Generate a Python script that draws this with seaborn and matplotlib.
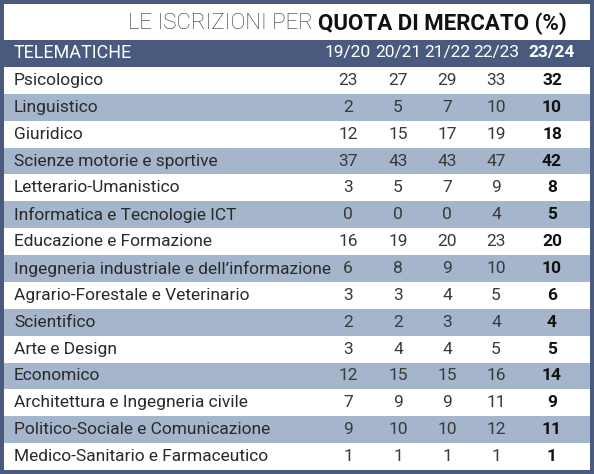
import matplotlib
matplotlib.use("Agg")
import matplotlib.pyplot as plt
import seaborn as sns
import numpy as np
from matplotlib.colors import ListedColormap

categories = ["Psicologico", "Linguistico", "Giuridico", "Scienze motorie e sportive",
              "Letterario-Umanistico", "Informatica e Tecnologie ICT", "Educazione e Formazione",
              "Ingegneria industriale e dell\u2019informazione", "Agrario-Forestale e Veterinario",
              "Scientifico", "Arte e Design", "Economico", "Architettura e Ingegneria civile",
              "Politico-Sociale e Comunicazione", "Medico-Sanitario e Farmaceutico"]
years = ["19/20", "20/21", "21/22", "22/23", "23/24"]
v1920 = [23, 2, 12, 37, 3, 0, 16, 6, 3, 2, 3, 12, 7, 9, 1]
v2021 = [27, 5, 15, 43, 5, 0, 19, 8, 3, 2, 4, 15, 9, 10, 1]
v2122 = [29, 7, 17, 43, 7, 0, 20, 9, 4, 3, 4, 15, 9, 10, 1]
v2223 = [33, 10, 19, 47, 9, 4, 23, 10, 5, 4, 5, 16, 11, 12, 1]
v2324 = [32, 10, 18, 42, 8, 5, 20, 10, 6, 4, 5, 14, 9, 11, 1]

DARK = "#4a5a7e"
BAND = "#a4b5cc"
W, H = 594, 474
plt.rcParams['font.family'] = ['Roboto', 'DejaVu Sans']
fig = plt.figure(figsize=(W/100, H/100), dpi=100, facecolor=DARK)

# title box
tax = fig.add_axes([4/W, 1-40/H, 586/W, 36/H])
tax.set_facecolor("white"); tax.set_xticks([]); tax.set_yticks([])
for s in tax.spines.values(): s.set_visible(False)
tax.text(0.536, 0.45, "LE ISCRIZIONI PER ", ha="right", va="center", fontsize=16,
         fontweight="light", color="#333333", transform=tax.transAxes)
tax.text(0.536, 0.45, "QUOTA DI MERCATO (%)", ha="left", va="center", fontsize=16,
         fontweight="bold", color="#111111", transform=tax.transAxes)

xs = [348, 398, 447, 496, 552]
fig.text(14/W, 1-53/H, "TELEMATICHE", ha="left", va="center", color="white", fontsize=13)
for x, y in zip(xs, years):
    fig.text(x/W, 1-53/H, y, ha="center", va="center", color="white", fontsize=12.5,
             fontweight="bold" if y == "23/24" else "normal")

top, bot = 67, 470
ax = fig.add_axes([4/W, 1-bot/H, 586/W, (bot-top)/H])
band = np.array([[i % 2] for i in range(len(categories))])
sns.heatmap(band, ax=ax, cmap=ListedColormap(["white", BAND]), cbar=False,
            xticklabels=False, yticklabels=False, linewidths=0)
ax.set_xlim(0, 1)
series = [v1920, v2021, v2122, v2223, v2324]
for i, name in enumerate(categories):
    ax.text(10/586, i+0.5, name, ha="left", va="center", fontsize=12.5, color="#2a2a2a")
    for j, (x, s) in enumerate(zip(xs, series)):
        bold = j == 4
        ax.text((x-4)/586, i+0.5, str(s[i]), ha="center", va="center", fontsize=12.5,
                color="#111111" if bold else "#3a3a3a",
                fontweight="bold" if bold else "normal")
fig.savefig("out.png", dpi=100, facecolor=DARK)
